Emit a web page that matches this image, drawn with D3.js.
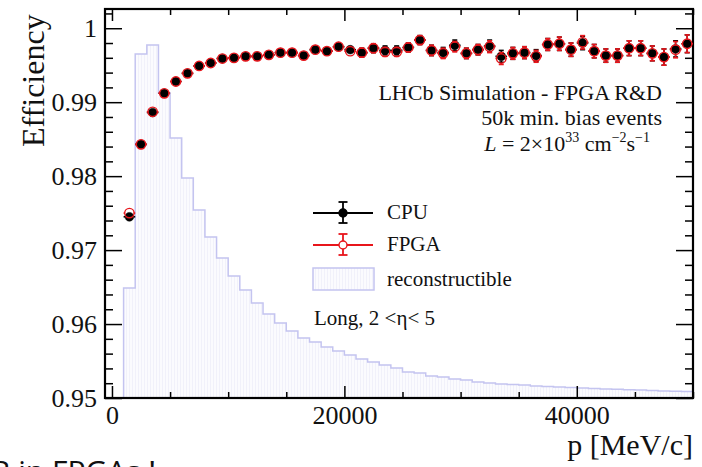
<!DOCTYPE html>
<html>
<head>
<meta charset="utf-8">
<script src="https://cdn.jsdelivr.net/npm/d3@7"></script>
<style>
  html, body { margin: 0; padding: 0; background: #fff; overflow: hidden; }
  text { font-family: "Liberation Serif", "Times New Roman", serif; fill: #111; }
</style>
</head>
<body>
<svg id="chart" width="702" height="467"></svg>
<script>
// momentum bin centres [MeV/c]
const pCenters = [1500, 2500, 3500, 4500, 5500, 6500, 7500, 8500, 9500, 10500,
  11500, 12500, 13500, 14500, 15500, 16500, 17500, 18500, 19500, 20500,
  21500, 22500, 23500, 24500, 25500, 26500, 27500, 28500, 29500, 30500,
  31500, 32500, 33500, 34500, 35500, 36500, 37500, 38500, 39500, 40500,
  41500, 42500, 43500, 44500, 45500, 46500, 47500, 48500, 49500];

const cpuEff = [0.9745, 0.9843, 0.9886, 0.9912, 0.9928, 0.9939, 0.9949, 0.9953, 0.9959, 0.9960,
  0.9962, 0.9962, 0.9964, 0.9967, 0.9967, 0.9963, 0.9971, 0.9969, 0.9975, 0.9971,
  0.9967, 0.9973, 0.9970, 0.9970, 0.9974, 0.9984, 0.9970, 0.9967, 0.9977, 0.9966,
  0.9971, 0.9976, 0.9962, 0.9966, 0.9967, 0.9963, 0.9978, 0.9979, 0.9971, 0.9980,
  0.9969, 0.9963, 0.9963, 0.9973, 0.9973, 0.9966, 0.9961, 0.9972, 0.9979];

const fpgaEff = [0.9750, 0.9843, 0.9887, 0.9912, 0.9928, 0.9939, 0.9949, 0.9953, 0.9959, 0.9960,
  0.9962, 0.9962, 0.9964, 0.9967, 0.9967, 0.9963, 0.9971, 0.9969, 0.9975, 0.9969,
  0.9967, 0.9973, 0.9968, 0.9968, 0.9974, 0.9984, 0.9970, 0.9966, 0.9975, 0.9966,
  0.9971, 0.9975, 0.9959, 0.9966, 0.9967, 0.9962, 0.9978, 0.9979, 0.9971, 0.9981,
  0.9969, 0.9963, 0.9963, 0.9973, 0.9973, 0.9966, 0.9961, 0.9971, 0.9979];

const effErr = [0.0003, 0.0002, 0.0002, 0.0002, 0.0002, 0.0003, 0.0003, 0.0003, 0.0003, 0.0003,
  0.0004, 0.0004, 0.0004, 0.0004, 0.0004, 0.0005, 0.0005, 0.0005, 0.0005, 0.0005,
  0.0006, 0.0006, 0.0006, 0.0006, 0.0006, 0.0006, 0.0007, 0.0007, 0.0007, 0.0007,
  0.0007, 0.0008, 0.0008, 0.0008, 0.0008, 0.0008, 0.0008, 0.0009, 0.0009, 0.0009,
  0.0009, 0.0009, 0.0009, 0.0010, 0.0010, 0.0010, 0.0011, 0.0011, 0.0012];

// reconstructible tracks per bin (arbitrary units)
const recoCounts = [1100, 3440, 3530, 3050, 2600, 2200, 1880, 1610, 1400, 1220,
  1080, 950, 840, 750, 670, 600, 560, 510, 470, 430,
  390, 360, 330, 300, 260, 250, 220, 210, 190, 180,
  160, 150, 140, 135, 130, 120, 115, 110, 105, 100,
  95, 90, 87, 83, 80, 75, 70, 67, 64];

const yMajorTicks = [0.95, 0.96, 0.97, 0.98, 0.99, 1];
const yTickLabels = ['0.95', '0.96', '0.97', '0.98', '0.99', '1'];
const xMajorTicks = [0, 20000, 40000];
const xTickLabels = ['0', '20000', '40000'];

const SERIF = '"Liberation Serif", "Times New Roman", serif';

main();

function main () {
  const svg = d3.select('#chart');
  const L = 105, R = 693, T = 9, B = 398;

  const x = d3.scaleLinear().domain([-600, 50000]).range([L, R]);
  const y = d3.scaleLinear().domain([0.95, 1.0026]).range([B, T]);
  const yh = d3.scaleLinear().domain([0, 3890]).range([B, T]);

  drawHist(svg, x, yh);
  drawAxes(svg, x, y, L, R, T, B);
  drawPoints(svg, x, y, cpuEff, '#000', true);
  drawPoints(svg, x, y, fpgaEff, '#e8151b', false);
  drawLegend(svg);
  drawTexts(svg);
}

function drawHist (svg, x, yh) {
  const defs = svg.append('defs');
  const pat = defs.append('pattern')
    .attr('id', 'hatch')
    .attr('patternUnits', 'userSpaceOnUse')
    .attr('width', 3)
    .attr('height', 10);
  pat.append('rect').attr('width', 3).attr('height', 10).attr('fill', '#fbfbfe');
  pat.append('line')
    .attr('x1', 0.5).attr('x2', 0.5).attr('y1', 0).attr('y2', 10)
    .attr('stroke', '#ececf8').attr('stroke-width', 0.7);

  const steps = [{ x: 0, v: 0 }];
  pCenters.forEach((c, i) => steps.push({ x: c - 500, v: recoCounts[i] }));
  steps.push({ x: 50000, v: recoCounts[recoCounts.length - 1] });

  const area = d3.area()
    .curve(d3.curveStepAfter)
    .x(d => x(d.x))
    .y0(yh(0))
    .y1(d => yh(d.v));
  const line = d3.line()
    .curve(d3.curveStepAfter)
    .x(d => x(d.x))
    .y(d => yh(d.v));

  svg.append('path').attr('d', area(steps)).attr('fill', 'url(#hatch)');
  svg.append('path').attr('d', line(steps))
    .attr('fill', 'none')
    .attr('stroke', '#c4c4f0')
    .attr('stroke-width', 1.5);
}

function addAxis (svg, tr, axis, withLabels) {
  const g = svg.append('g').attr('transform', tr).call(axis);
  g.attr('font-family', null).attr('font-size', null);
  g.select('.domain').remove();
  g.selectAll('line').attr('stroke', '#000').attr('stroke-width', 1.5);
  g.selectAll('text')
    .attr('font-family', SERIF)
    .attr('font-size', 26)
    .attr('fill', '#111')
    .style('font-family', SERIF)
    .style('font-size', '26px');
  if (!withLabels) g.selectAll('text').remove();
  return g;
}

function drawAxes (svg, x, y, L, R, T, B) {
  const yMinor = d3.range(0.95, 1.0025, 0.002).filter(v => Math.abs(v * 100 - Math.round(v * 100)) > 1e-6);
  const xMinor = d3.range(0, 50001, 5000).filter(v => xMajorTicks.indexOf(v) === -1);

  // left
  addAxis(svg, `translate(${L},0)`, d3.axisLeft(y).tickValues(yMinor).tickSize(-8), false);
  addAxis(svg, `translate(${L},0)`, d3.axisLeft(y).tickValues(yMajorTicks).tickSize(-17).tickPadding(8)
    .tickFormat((d, i) => yTickLabels[i]), true);
  // right
  addAxis(svg, `translate(${R},0)`, d3.axisRight(y).tickValues(yMinor).tickSize(-8), false);
  addAxis(svg, `translate(${R},0)`, d3.axisRight(y).tickValues(yMajorTicks).tickSize(-17), false);
  // bottom
  addAxis(svg, `translate(0,${B})`, d3.axisBottom(x).tickValues(xMinor).tickSize(-6), false);
  addAxis(svg, `translate(0,${B})`, d3.axisBottom(x).tickValues(xMajorTicks).tickSize(-12).tickPadding(8)
    .tickFormat((d, i) => xTickLabels[i]), true);
  // top
  addAxis(svg, `translate(0,${T})`, d3.axisTop(x).tickValues(xMinor).tickSize(-6), false);
  addAxis(svg, `translate(0,${T})`, d3.axisTop(x).tickValues(xMajorTicks).tickSize(-12), false);

  svg.append('rect')
    .attr('x', L).attr('y', T)
    .attr('width', R - L).attr('height', B - T)
    .attr('fill', 'none')
    .attr('stroke', '#000')
    .attr('stroke-width', 2.2);
}

function drawPoints (svg, x, y, values, color, filled) {
  const r = 4.4;
  const g = svg.append('g');
  values.forEach((v, i) => {
    const cx = x(pCenters[i]);
    const cy = y(v);
    const xl = x(pCenters[i] - 500);
    const xr = x(pCenters[i] + 500);
    const yt = y(v + effErr[i]);
    const yb = y(v - effErr[i]);
    const seg = (x1, y1, x2, y2) => g.append('line')
      .attr('x1', x1).attr('y1', y1).attr('x2', x2).attr('y2', y2)
      .attr('stroke', color).attr('stroke-width', 1.6);
    seg(xl, cy, cx - r, cy);
    seg(cx + r, cy, xr, cy);
    if (yt < cy - r) {
      seg(cx, yt, cx, cy - r);
      seg(cx - 2.5, yt, cx + 2.5, yt);
    }
    if (yb > cy + r) {
      seg(cx, cy + r, cx, yb);
      seg(cx - 2.5, yb, cx + 2.5, yb);
    }
    g.append('circle')
      .attr('cx', cx).attr('cy', cy)
      .attr('r', filled ? r : r + 0.3)
      .attr('fill', filled ? color : 'none')
      .attr('stroke', color)
      .attr('stroke-width', filled ? 0.5 : 1.4);
  });
}

function drawLegend (svg) {
  const items = [
    { label: 'CPU', color: '#000', filled: true, y: 213 },
    { label: 'FPGA', color: '#e8151b', filled: false, y: 245 }
  ];
  items.forEach(it => {
    const g = svg.append('g');
    const ln = (x1, y1, x2, y2) => g.append('line')
      .attr('x1', x1).attr('y1', y1).attr('x2', x2).attr('y2', y2)
      .attr('stroke', it.color).attr('stroke-width', 1.8);
    ln(313, it.y, 373, it.y);
    ln(343, it.y - 11, 343, it.y + 10);
    ln(338.5, it.y - 11, 347.5, it.y - 11);
    ln(338.5, it.y + 10, 347.5, it.y + 10);
    g.append('circle').attr('cx', 343).attr('cy', it.y).attr('r', 4)
      .attr('fill', it.filled ? it.color : '#fff')
      .attr('stroke', it.color).attr('stroke-width', 1.4);
    g.append('text').attr('x', 387).attr('y', it.y + 6)
      .style('font-size', '21px').text(it.label);
  });
  svg.append('rect')
    .attr('x', 313).attr('y', 268).attr('width', 61).attr('height', 22)
    .attr('fill', 'url(#hatch)')
    .attr('stroke', '#c4c4f0').attr('stroke-width', 1.5);
  svg.append('text').attr('x', 387).attr('y', 286)
    .style('font-size', '21px').text('reconstructible');
  const t = svg.append('text').attr('x', 314).attr('y', 325).style('font-size', '21px');
  t.append('tspan').text('Long, 2 <');
  t.append('tspan').text('η');
  t.append('tspan').text('< 5');
}

function drawTexts (svg) {
  svg.append('text')
    .attr('transform', 'translate(44,147) rotate(-90)')
    .style('font-size', '32px')
    .text('Efficiency');
  svg.append('text')
    .attr('x', 693).attr('y', 455)
    .attr('text-anchor', 'end')
    .style('font-size', '30px')
    .text('p [MeV/c]');

  svg.append('text').attr('x', 662).attr('y', 100).attr('text-anchor', 'end')
    .style('font-size', '22px').text('LHCb Simulation - FPGA R&D');
  svg.append('text').attr('x', 662).attr('y', 125).attr('text-anchor', 'end')
    .style('font-size', '22px').text('50k min. bias events');
  const lum = svg.append('text').attr('x', 650).attr('y', 151).attr('text-anchor', 'end')
    .style('font-size', '22px');
  lum.append('tspan').style('font-style', 'italic').text('L');
  lum.append('tspan').text(' = 2×10');
  lum.append('tspan').attr('dy', -9).style('font-size', '14px').text('33');
  lum.append('tspan').attr('dy', 9).text(' cm');
  lum.append('tspan').attr('dy', -9).style('font-size', '14px').text('−2');
  lum.append('tspan').attr('dy', 9).text('s');
  lum.append('tspan').attr('dy', -9).style('font-size', '14px').text('−1');

  svg.append('text')
    .attr('x', -9).attr('y', 482)
    .style('font-family', '"Open Sans", sans-serif')
    .style('font-size', '30px')
    .attr('fill', '#111')
    .text('B in FPGAs !');
}
</script>
</body>
</html>
